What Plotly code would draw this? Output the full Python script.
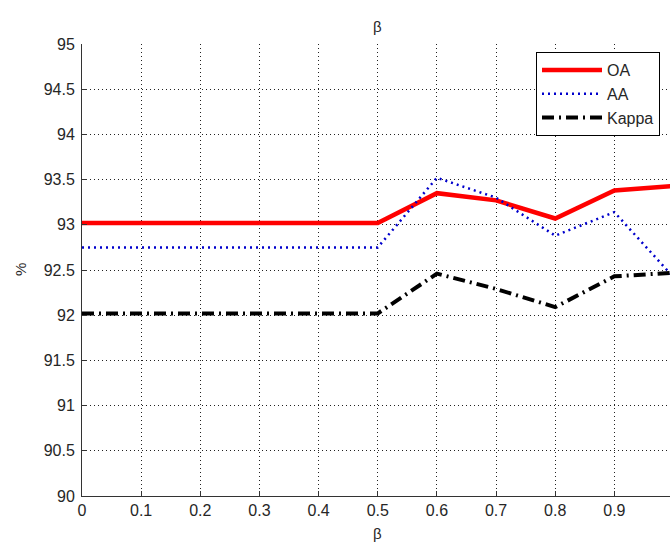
import plotly.graph_objects as go

beta = [0, 0.1, 0.2, 0.3, 0.4, 0.5, 0.6, 0.7, 0.8, 0.9, 1.0]
oa = [93.02, 93.02, 93.02, 93.02, 93.02, 93.02, 93.35, 93.27, 93.07, 93.38, 93.43]
aa = [92.75, 92.75, 92.75, 92.75, 92.75, 92.75, 93.52, 93.30, 92.88, 93.14, 92.42]
kappa = [92.02, 92.02, 92.02, 92.02, 92.02, 92.02, 92.46, 92.29, 92.09, 92.43, 92.47]

x_ticks = [0, 0.1, 0.2, 0.3, 0.4, 0.5, 0.6, 0.7, 0.8, 0.9]
x_labels = ["0", "0.1", "0.2", "0.3", "0.4", "0.5", "0.6", "0.7", "0.8", "0.9"]
y_ticks = [90, 90.5, 91, 91.5, 92, 92.5, 93, 93.5, 94, 94.5, 95]
y_labels = ["90", "90.5", "91", "91.5", "92", "92.5", "93", "93.5", "94", "94.5", "95"]

font = "Arial, Liberation Sans, sans-serif"
tickfont = dict(family=font, size=16, color="#262626")
txt = dict(family=font, size=15, color="#262626")

fig = go.Figure()
fig.add_trace(go.Scatter(x=beta, y=oa, mode="lines", name="OA", legendgroup="a",
                         line=dict(color="#ff0000", width=4.5)))
fig.add_trace(go.Scatter(x=beta, y=aa, mode="lines", name="AA", legendgroup="b",
                         line=dict(color="#0000cc", width=2.5, dash="2px,4px")))
fig.add_trace(go.Scatter(x=beta, y=kappa, mode="lines", name="Kappa", legendgroup="c",
                         line=dict(color="#000000", width=4, dash="12px,5px,2px,5px")))

axis_common = dict(
    showgrid=True, gridcolor="#222222", griddash="1px,3px", gridwidth=1,
    showline=True, linecolor="#333333", linewidth=1,
    ticks="inside", ticklen=5, tickcolor="#333333",
    tickfont=tickfont, zeroline=False, mirror=False,
)

fig.update_layout(
    width=670, height=545,
    margin=dict(l=82, r=0, t=44, b=49),
    paper_bgcolor="white", plot_bgcolor="white",
    showlegend=True,
    legend=dict(x=(536 - 82) / 588, y=1 - (52 - 44) / 452, xanchor="left", yanchor="top",
                bgcolor="white", bordercolor="#000000", borderwidth=1,
                font=dict(family=font, size=16, color="#262626"),
                tracegroupgap=0, itemwidth=60),
    xaxis=dict(range=[0, 0.994], tickvals=x_ticks, ticktext=x_labels, **axis_common),
    yaxis=dict(range=[90, 95], tickvals=y_ticks, ticktext=y_labels,
               ticklabelstandoff=3, **axis_common),
)
fig.add_annotation(text="β", xref="x", yref="paper", x=0.5, y=1 + (44 - 27) / 452,
                   showarrow=False, font=txt, xanchor="center", yanchor="middle")
fig.add_annotation(text="β", xref="x", yref="paper", x=0.5, y=-(533 - 496) / 452,
                   showarrow=False, font=txt, xanchor="center", yanchor="middle")
fig.add_annotation(text="%", xref="paper", yref="paper", x=-(82 - 20) / 588, y=0.5,
                   showarrow=False, textangle=-90, font=txt,
                   xanchor="center", yanchor="middle")

fig.write_html("out.html", config={"displayModeBar": False},
               post_script="document.body.style.margin='0';document.body.style.overflow='hidden';")
